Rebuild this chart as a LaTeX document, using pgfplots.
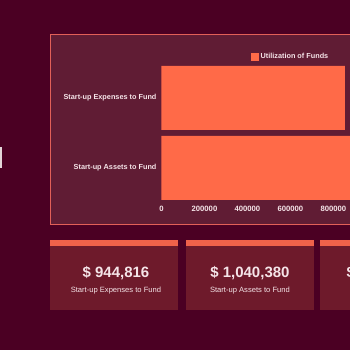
\documentclass[border=0pt]{standalone}
\usepackage{fontspec}
\setmainfont{Liberation Sans}
\usepackage{pgfplots}
\pgfplotsset{compat=1.18}
\definecolor{bg}{RGB}{75,0,35}
\definecolor{panel}{RGB}{96,28,52}
\definecolor{panelborder}{RGB}{226,96,88}
\definecolor{barc}{RGB}{255,106,72}
\definecolor{card}{RGB}{110,26,43}
\definecolor{strip}{RGB}{240,98,74}
\definecolor{txt}{RGB}{245,228,232}
\begin{document}
\begin{tikzpicture}
\begin{scope}[x=1pt,y=1pt]
\useasboundingbox (0,0) rectangle (350,350);
\fill[bg] (0,0) rectangle (350,350);
\begin{scope}
\clip (0,0) rectangle (350,350);
\fill[panel] (50,125) rectangle (362,316);
\draw[panelborder, line width=1.4pt] (50.7,125.7) rectangle (364,315.3);
\fill[txt!85!gray] (0,182) rectangle (2.5,203);
\foreach \xa/\xb in {50/178, 186/314, 320/448} {
  \fill[card] (\xa,40) rectangle (\xb,109.5);
  \fill[strip] (\xa,103.5) rectangle (\xb,109.5);
}
\node[text=txt, font=\bfseries\fontsize{15}{15}\selectfont] at (116,77.3) {\$ 944,816};
\node[text=txt, font=\fontsize{7.6}{8}\selectfont] at (116,59.7) {Start-up Expenses to Fund};
\node[text=txt, font=\bfseries\fontsize{15}{15}\selectfont] at (250,77.3) {\$ 1,040,380};
\node[text=txt, font=\fontsize{7.6}{8}\selectfont] at (250,59.7) {Start-up Assets to Fund};
\node[text=txt, font=\bfseries\fontsize{15}{15}\selectfont, anchor=west, inner sep=0pt] at (346.5,77.3) {\$ 1,985,196};
\end{scope}
\end{scope}
\begin{axis}[
  at={(161.5pt,147pt)}, anchor=south west, scale only axis,
  width=188.5pt, height=140pt,
  xbar, bar width=64pt,
  xmin=0, xmax=876744, ymin=-0.5, ymax=1.5,
  ytick={0,1},
  yticklabels={Start-up Assets to Fund, Start-up Expenses to Fund},
  xtick={0,200000,400000,600000,800000},
  scaled x ticks=false,
  x tick label style={/pgf/number format/fixed, /pgf/number format/1000 sep={}, font=\bfseries\fontsize{7.7}{8}\selectfont},
  y tick label style={xshift=-1.5pt},
  /pgf/number format/assume math mode=true,
  axis line style={draw=none},
  major tick length=0pt,
  tick label style={font=\bfseries\fontsize{7.3}{8}\selectfont, text=txt},
  legend image code/.code={\fill[barc] (0pt,-4pt) rectangle (8pt,4pt);},
  legend style={at={(0.472,1.043)}, anchor=west, draw=none, fill=none,
    font=\bfseries\fontsize{7.3}{8}\selectfont, text=txt, inner sep=0pt},
]
\addplot[fill=barc, draw=none] coordinates {(1040380,0) (853500,1)};
\addlegendentry{Utilization of Funds}
\end{axis}
\end{tikzpicture}
\end{document}
